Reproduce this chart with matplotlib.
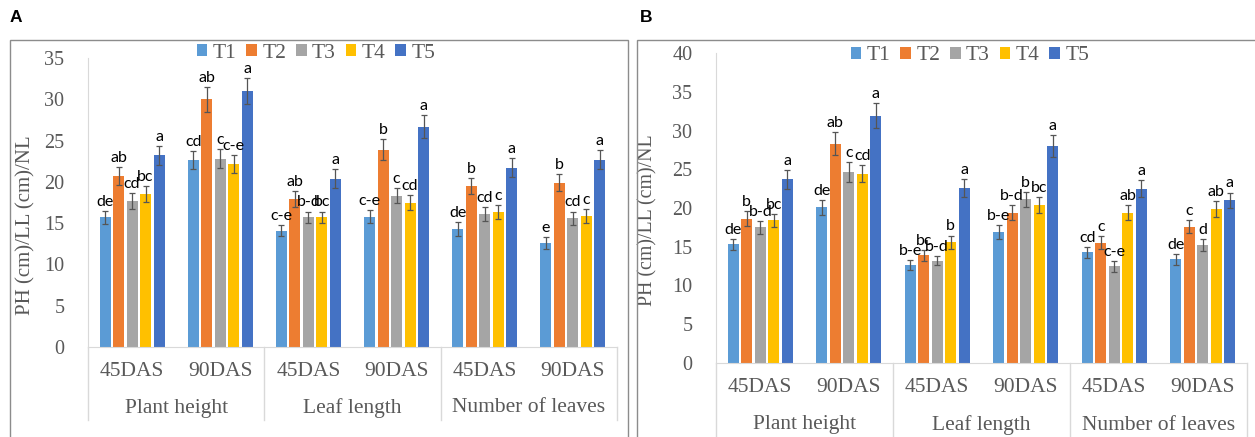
import matplotlib
matplotlib.use("Agg")
import matplotlib.pyplot as plt
from matplotlib.lines import Line2D
import numpy as np

groups = ["Plant height", "Leaf length", "Number of leaves"]
stages = ["45DAS", "90DAS", "45DAS", "90DAS", "45DAS", "90DAS"]
treatments = ["T1", "T2", "T3", "T4", "T5"]
colors = ["#5B9BD5", "#ED7D31", "#A5A5A5", "#FFC000", "#4472C4"]

# rows = treatments, columns = PH45, PH90, LL45, LL90, NL45, NL90
means_a = [
    [15.7, 22.6, 14.1, 15.8, 14.3, 12.6],
    [20.7, 30.0, 17.9, 23.9, 19.5, 19.9],
    [17.7, 22.8, 15.7, 18.3, 16.1, 15.6],
    [18.5, 22.2, 15.7, 17.5, 16.3, 15.9],
    [23.2, 31.0, 20.4, 26.7, 21.7, 22.7],
]
err_a = [
    [0.8, 1.1, 0.7, 0.8, 0.8, 0.7],
    [1.05, 1.5, 0.95, 1.25, 0.95, 1.05],
    [1.0, 1.15, 0.7, 0.9, 0.85, 0.8],
    [0.95, 1.1, 0.7, 0.85, 0.85, 0.85],
    [1.15, 1.6, 1.1, 1.4, 1.15, 1.15],
]
letters_a = [
    ["de", "cd", "c-e", "c-e", "de", "e"],
    ["ab", "ab", "ab", "b", "b", "b"],
    ["cd", "c", "b-d", "c", "cd", "cd"],
    ["bc", "c-e", "bc", "cd", "c", "c"],
    ["a", "a", "a", "a", "a", "a"],
]

means_b = [
    [15.3, 20.1, 12.6, 16.9, 14.3, 13.4],
    [18.6, 28.3, 13.9, 19.4, 15.5, 17.6],
    [17.5, 24.6, 13.2, 21.1, 12.5, 15.2],
    [18.4, 24.4, 15.6, 20.4, 19.4, 19.9],
    [23.7, 31.9, 22.6, 28.0, 22.5, 21.0],
]
err_b = [
    [0.75, 0.95, 0.65, 0.9, 0.7, 0.7],
    [0.95, 1.45, 0.7, 1.0, 0.85, 0.85],
    [0.85, 1.3, 0.6, 1.0, 0.7, 0.8],
    [0.85, 1.1, 0.85, 1.0, 0.95, 1.0],
    [1.2, 1.6, 1.15, 1.4, 1.1, 1.0],
]
letters_b = [
    ["de", "de", "b-e", "b-e", "cd", "de"],
    ["b", "ab", "bc", "b-d", "c", "c"],
    ["b-d", "c", "b-d", "b", "c-e", "d"],
    ["bc", "cd", "b", "bc", "ab", "ab"],
    ["a", "a", "a", "a", "a", "a"],
]

W, H = 1255, 437
SERIF = "Liberation Serif"
GRAY = "#595959"
LINE = "#D9D9D9"

fig = plt.figure(figsize=(W / 100, H / 100), dpi=100)


def px_axes(l, t, r, b):
    return fig.add_axes([l / W, 1 - b / H, (r - l) / W, (b - t) / H])


def panel(ax, means, errs, letters, ymax, tick_y, group_y, line_bottom, leg_xy,
          ylab_xy, ylab_size):
    x = np.arange(len(stages))
    pitch, width = 0.153, 0.125
    for i, t in enumerate(treatments):
        ax.bar(x + (i - 2) * pitch, means[i], width, color=colors[i], label=t,
               yerr=errs[i], error_kw=dict(ecolor="#555555", elinewidth=0.9,
                                           capsize=2.2, capthick=0.9))
        for j in range(len(stages)):
            ax.annotate(letters[i][j], (x[j] + (i - 2) * pitch, means[i][j] + errs[i][j]),
                        xytext=(0, 1.5), textcoords="offset points", ha="center",
                        va="bottom", fontsize=11.5, family="Lato", color="black")
    ax.set_xlim(-0.5, len(stages) - 0.5)
    ax.set_ylim(0, ymax)
    ax.set_yticks(np.arange(0, ymax + 1, 5))
    ax.tick_params(axis="y", length=0, pad=17, labelsize=14.5, labelcolor=GRAY)
    for lab in ax.get_yticklabels():
        lab.set_family(SERIF)
    ax.set_xticks([])
    for s in ["top", "right"]:
        ax.spines[s].set_visible(False)
    ax.spines["left"].set_color(LINE)
    ax.spines["bottom"].set_color(LINE)
    ax.set_ylabel("PH (cm)/LL (cm)/NL", family=SERIF, fontsize=ylab_size, color=GRAY)
    ax.yaxis.set_label_coords(*ylab_xy)

    # category table under the axis
    for j, s in enumerate(stages):
        ax.text(j, tick_y, s, transform=ax.get_xaxis_transform(), ha="center",
                va="center", family=SERIF, fontsize=15.5, color=GRAY)
    for g, name in enumerate(groups):
        ax.text(2 * g + 0.5, group_y, name, transform=ax.get_xaxis_transform(),
                ha="center", va="center", family=SERIF, fontsize=15.5, color=GRAY)
    for k in range(4):
        ax.add_line(Line2D([2 * k - 0.5, 2 * k - 0.5], [0, line_bottom],
                           transform=ax.get_xaxis_transform(), color=LINE,
                           lw=1, clip_on=False))

    ax.legend(loc="center", bbox_to_anchor=(leg_xy[0] / W, 1 - leg_xy[1] / H),
              bbox_transform=fig.transFigure, ncol=5, frameon=False,
              handlelength=0.5, handleheight=0.5, handletextpad=0.25,
              columnspacing=0.45, prop=dict(family=SERIF, size=15.5),
              labelcolor=GRAY)


# panel frames
fig.add_artist(plt.Rectangle((10 / W, -0.01), 618 / W, 1 - 40 / H + 0.01,
                             transform=fig.transFigure, fill=False,
                             edgecolor="#8C8C8C", lw=1))
fig.add_artist(plt.Rectangle((637 / W, -0.01), 630 / W, 1 - 40 / H + 0.01,
                             transform=fig.transFigure, fill=False,
                             edgecolor="#8C8C8C", lw=1))
fig.text(10 / W, 1 - 17 / H, "A", fontsize=12.5, fontweight="bold",
         family="Liberation Sans", va="center", ha="left")
fig.text(640 / W, 1 - 17 / H, "B", fontsize=12.5, fontweight="bold",
         family="Liberation Sans", va="center", ha="left")

ax_a = px_axes(88, 58, 617, 347)
panel(ax_a, means_a, err_a, letters_a, 35, -25 / 289, -61 / 289, -73 / 289, (316, 53),
      ((35 - 88) / 529, (347 - 225) / 289), 15)

ax_b = px_axes(716, 53, 1247, 363)
panel(ax_b, means_b, err_b, letters_b, 40, -25 / 310, -62 / 310, -80 / 310, (970, 56),
      ((657 - 716) / 531, (363 - 220) / 310), 14.3)

fig.savefig("out.png", dpi=100)
